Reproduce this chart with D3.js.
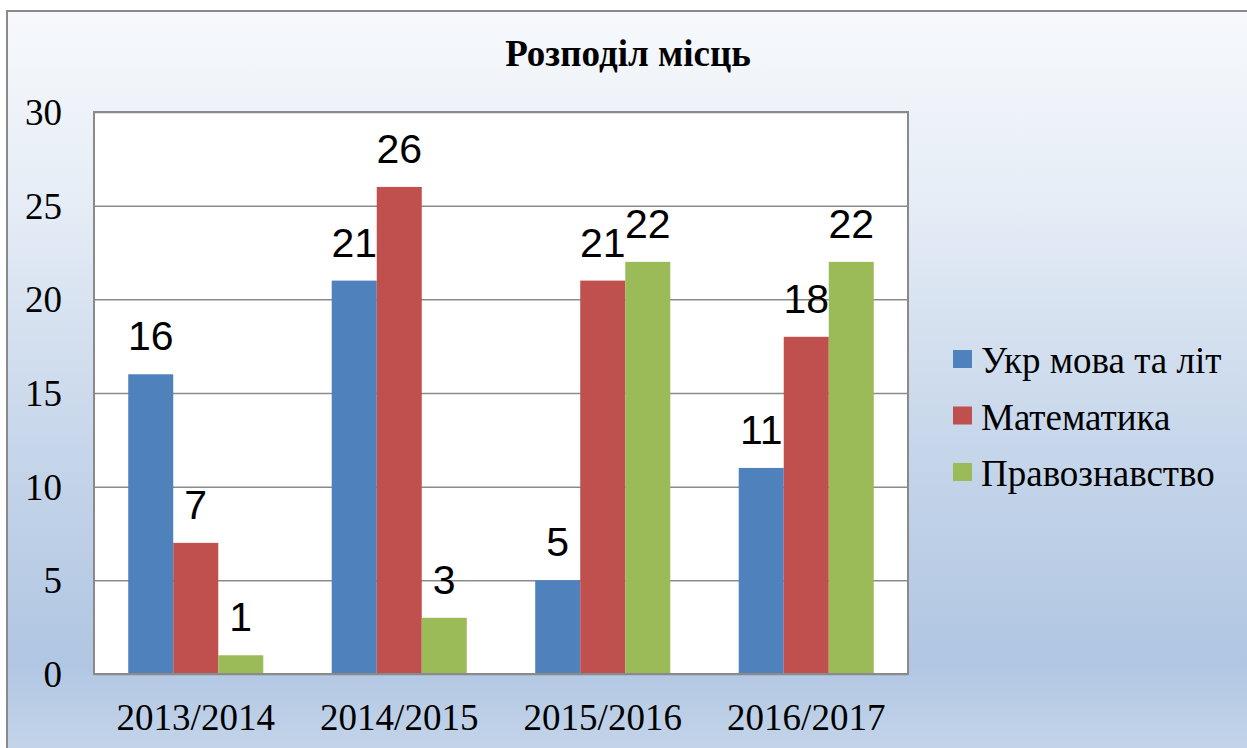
<!DOCTYPE html>
<html>
<head>
<meta charset="utf-8">
<script src="https://cdn.jsdelivr.net/npm/d3@7"></script>
<style>
  html, body { margin: 0; padding: 0; background: #fff; }
  svg { display: block; }
  .serif { font-family: "Liberation Serif", "Times New Roman", Times, "DejaVu Serif", serif; }
  .sans { font-family: "Liberation Sans", Arial, sans-serif; }
</style>
</head>
<body>
<div id="chart"></div>
<script>
// data
var years = ["2013/2014", "2014/2015", "2015/2016", "2016/2017"];
var subjects = ["Укр мова та літ", "Математика", "Правознавство"];
var ukrValues = [16, 21, 5, 11];
var mathValues = [7, 26, 21, 18];
var lawValues = [1, 3, 22, 22];
var yTicks = [0, 5, 10, 15, 20, 25, 30];
var title = "Розподіл місць";

var colors = ["#4f81bd", "#c0504d", "#9bbb59"];

var w = 1247, h = 748;
var plot = { left: 94, right: 908, top: 112, bottom: 674 };

// rows for the grouped bars
var series = [ukrValues, mathValues, lawValues];
var rows = years.map(function(y, i) {
    return {
        year: y,
        values: subjects.map(function(s, j) { return { key: s, value: series[j][i] }; })
    };
});

var svg = d3.select("#chart")
            .append("svg")
            .attr("width", w)
            .attr("height", h);

var defs = svg.append("defs");
var grad = defs.append("linearGradient")
               .attr("id", "bg")
               .attr("x1", 0).attr("y1", 0)
               .attr("x2", 0).attr("y2", 1);
[[0, "#f7f9fc"], [0.25, "#e6edf6"], [0.55, "#c9d8eb"], [0.87, "#b0c6e2"], [1, "#c6d6ea"]]
    .forEach(function(s) {
        grad.append("stop").attr("offset", s[0]).attr("stop-color", s[1]);
    });

// chart background + border
svg.append("rect")
    .attr("x", 7).attr("y", 11)
    .attr("width", w + 20).attr("height", h)
    .attr("fill", "url(#bg)")
    .attr("stroke", "#8a8a8a")
    .attr("stroke-width", 2);

// plot area
svg.append("rect")
    .attr("x", plot.left).attr("y", plot.top)
    .attr("width", plot.right - plot.left)
    .attr("height", plot.bottom - plot.top)
    .attr("fill", "#fff");

var x0 = d3.scaleBand()
           .domain(years)
           .range([plot.left, plot.right])
           .padding(0);

var x1 = d3.scaleBand()
           .domain(subjects)
           .range([0, x0.bandwidth()])
           .paddingInner(0)
           .paddingOuter(0.76);

var yScale = d3.scaleLinear()
               .domain([0, 30])
               .range([plot.bottom, plot.top]);

// y axis with gridlines
var yAxis = d3.axisLeft(yScale)
              .tickValues(yTicks)
              .tickSizeInner(-(plot.right - plot.left))
              .tickSizeOuter(0)
              .tickPadding(32);

var gy = svg.append("g")
            .attr("transform", "translate(" + plot.left + ",0)")
            .call(yAxis)
            .attr("font-family", null)
            .attr("font-size", null);
gy.select(".domain").remove();
gy.selectAll(".tick line")
  .attr("stroke", "#8a8a8a")
  .attr("stroke-width", 1.5);
gy.selectAll(".tick text")
  .attr("class", "serif")
  .style("font-size", "37px")
  .attr("fill", "#000")
  .attr("dy", "0.34em");

// bars
var groups = svg.selectAll("g.group")
                .data(rows)
                .enter()
                .append("g")
                .attr("class", "group")
                .attr("transform", function(d) { return "translate(" + x0(d.year) + ",0)"; });

groups.selectAll("rect")
      .data(function(d) { return d.values; })
      .enter()
      .append("rect")
      .attr("x", function(d) { return x1(d.key); })
      .attr("y", function(d) { return yScale(d.value); })
      .attr("width", x1.bandwidth())
      .attr("height", function(d) { return yScale(0) - yScale(d.value); })
      .attr("fill", function(d, i) { return colors[i]; });

groups.selectAll("text.lbl")
      .data(function(d) { return d.values; })
      .enter()
      .append("text")
      .attr("class", "lbl sans")
      .attr("x", function(d) { return x1(d.key) + x1.bandwidth() / 2; })
      .attr("y", function(d) { return yScale(d.value) - 24; })
      .attr("text-anchor", "middle")
      .style("font-size", "41px")
      .attr("fill", "#000")
      .text(function(d) { return d.value; });

// plot border
svg.append("rect")
    .attr("x", plot.left).attr("y", plot.top)
    .attr("width", plot.right - plot.left)
    .attr("height", plot.bottom - plot.top)
    .attr("fill", "none")
    .attr("stroke", "#8a8a8a")
    .attr("stroke-width", 2);

// x axis
var xAxis = d3.axisBottom(x0)
              .tickSize(0)
              .tickPadding(30);

var gx = svg.append("g")
            .attr("transform", "translate(0," + plot.bottom + ")")
            .call(xAxis)
            .attr("font-family", null)
            .attr("font-size", null);
gx.select(".domain").remove();
gx.selectAll(".tick text")
  .attr("class", "serif")
  .style("font-size", "37px")
  .attr("fill", "#000");

// title
svg.append("text")
    .attr("class", "serif")
    .attr("x", 628)
    .attr("y", 66)
    .attr("text-anchor", "middle")
    .style("font-weight", "bold")
    .style("font-size", "37px")
    .attr("fill", "#000")
    .text(title);

// legend
var legend = svg.selectAll("g.legend")
                .data(subjects)
                .enter()
                .append("g")
                .attr("class", "legend")
                .attr("transform", function(d, i) { return "translate(953," + (373 + i * 56.5) + ")"; });

legend.append("rect")
      .attr("x", 0)
      .attr("y", -23)
      .attr("width", 19)
      .attr("height", 18)
      .attr("fill", function(d, i) { return colors[i]; });

legend.append("text")
      .attr("class", "serif")
      .attr("x", 28)
      .attr("y", 0)
      .style("font-size", "37px")
      .attr("fill", "#000")
      .text(function(d) { return d; });
</script>
</body>
</html>
